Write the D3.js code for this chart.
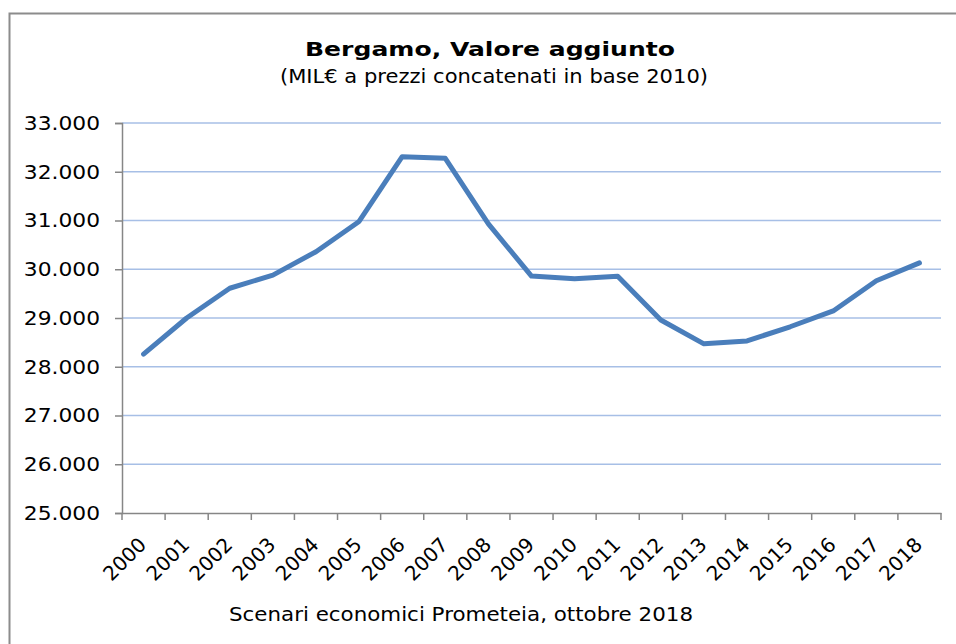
<!DOCTYPE html>
<html>
<head>
<meta charset="utf-8">
<script src="https://cdn.jsdelivr.net/npm/d3@7"></script>
<style>
  body { margin: 0; background: #fff; }
  text { font-family: "DejaVu Sans", Verdana, sans-serif; fill: #000; }
</style>
</head>
<body>
<div id="chart"></div>
<script>
const years = ["2000","2001","2002","2003","2004","2005","2006","2007","2008","2009",
               "2010","2011","2012","2013","2014","2015","2016","2017","2018"];
const values = [28260, 29000, 29610, 29880, 30360, 30980, 32310, 32275, 30930, 29860,
                29805, 29855, 28960, 28470, 28530, 28820, 29145, 29765, 30130];
const yTicks = [25000, 26000, 27000, 28000, 29000, 30000, 31000, 32000, 33000];

const W = 956, H = 644;
const margin = {top: 123, right: 15, bottom: 131, left: 122};
const width = 941 - margin.left, height = 513 - margin.top;
const stretch = 1.09; // tick labels are a bit wider than DejaVu

const svg = d3.select("#chart").append("svg")
    .attr("width", W).attr("height", H);

// chart frame
svg.append("rect")
    .attr("x", 9.5).attr("y", 13.5)
    .attr("width", 1000).attr("height", 700)
    .attr("fill", "none").attr("stroke", "#8c8c8c").attr("stroke-width", 2);

const g = svg.append("g").attr("transform", `translate(${margin.left},${margin.top})`);

const x = d3.scaleBand().domain(years).range([0, width]);
const y = d3.scaleLinear().domain([25000, 33000]).range([height, 0]);

const fmt = d => d3.format(",")(d).replace(/,/g, ".");

// gridlines
g.append("g").selectAll("line")
    .data(yTicks.slice(1))
    .join("line")
    .attr("x1", 0).attr("x2", width)
    .attr("y1", d => y(d)).attr("y2", d => y(d))
    .attr("stroke", "#a7bfe6").attr("stroke-width", 1.5);

// y axis
const yAxis = g.append("g")
    .call(d3.axisLeft(y).tickValues(yTicks).tickFormat(fmt).tickSize(7).tickPadding(15));
yAxis.select(".domain").attr("stroke", "#868686").attr("stroke-width", 1.5);
yAxis.selectAll(".tick line").attr("stroke", "#868686").attr("stroke-width", 1.5);
yAxis.selectAll(".tick text")
    .attr("font-size", 20).attr("font-family", "DejaVu Sans").attr("fill", "#000")
    .attr("x", -22 / stretch)
    .attr("transform", `scale(${stretch},1)`);

// x axis (labels at band centres, tick marks between categories)
const xAxis = g.append("g")
    .attr("transform", `translate(0,${height})`)
    .call(d3.axisBottom(x).tickSize(0).tickPadding(0));
xAxis.select(".domain").attr("stroke", "#868686").attr("stroke-width", 1.5);
xAxis.selectAll(".tick text")
    .attr("font-size", 20).attr("font-family", "DejaVu Sans").attr("fill", "#000")
    .attr("text-anchor", "end")
    .attr("dy", 0)
    .attr("transform", "translate(4,33) rotate(-45)");

xAxis.selectAll(".bound")
    .data(years.concat(["end"]))
    .join("line")
    .attr("class", "bound")
    .attr("x1", d => d === "end" ? width : x(d))
    .attr("x2", d => d === "end" ? width : x(d))
    .attr("y1", 0).attr("y2", 7)
    .attr("stroke", "#868686").attr("stroke-width", 1.5);

// line
const line = d3.line()
    .x((d, i) => x(years[i]) + x.bandwidth() / 2)
    .y(d => y(d));

g.append("path")
    .datum(values)
    .attr("d", line)
    .attr("fill", "none")
    .attr("stroke", "#4a7ebb")
    .attr("stroke-width", 5)
    .attr("stroke-linejoin", "round")
    .attr("stroke-linecap", "round");

// titles
svg.append("text")
    .attr("x", 490).attr("y", 56)
    .attr("text-anchor", "middle")
    .attr("font-size", 20).attr("font-weight", "bold")
    .attr("textLength", 370).attr("lengthAdjust", "spacingAndGlyphs")
    .text("Bergamo, Valore aggiunto");

svg.append("text")
    .attr("x", 494).attr("y", 83)
    .attr("text-anchor", "middle")
    .attr("font-size", 19.5)
    .attr("textLength", 428).attr("lengthAdjust", "spacingAndGlyphs")
    .text("(MIL€ a prezzi concatenati in base 2010)");

svg.append("text")
    .attr("x", 229).attr("y", 621)
    .attr("font-size", 19.5)
    .attr("textLength", 464).attr("lengthAdjust", "spacingAndGlyphs")
    .text("Scenari economici Prometeia, ottobre 2018");
</script>
</body>
</html>
